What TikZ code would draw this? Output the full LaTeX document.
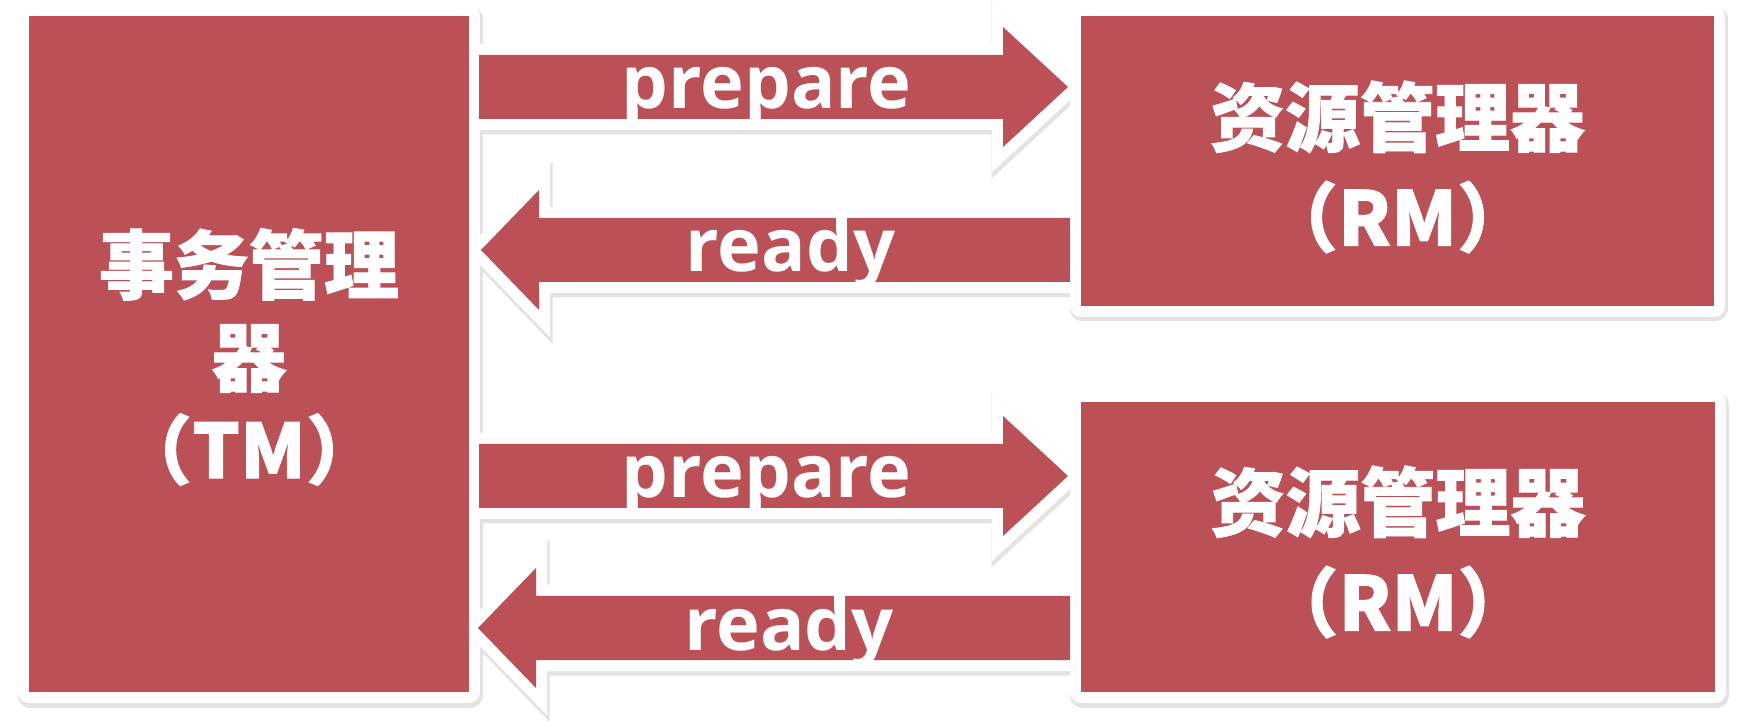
\documentclass[tikz,border=0pt]{standalone}
\usepackage{fontspec}
\setmainfont{Open Sans}
\newfontfamily\cjk{Noto Sans CJK SC}[BoldFeatures={FakeBold=1.2}]
\usetikzlibrary{calc}
\definecolor{boxred}{RGB}{187,80,87}
\pgfdeclarelayer{shadowlayer}
\pgfdeclarelayer{edgelayer}
\pgfsetlayers{shadowlayer,edgelayer,main}
\newcommand\blockarr[3]{($(#1)+(0,32)$) -- ($(#2)+(#3,32)$) -- ($(#2)+(#3,60)$) -- (#2) -- ($(#2)+(#3,-60)$) -- ($(#2)+(#3,-32)$) -- ($(#1)+(0,-32)$) -- cycle}
\begin{document}
\begin{tikzpicture}[x=1pt,y=1pt,
  box/.style={fill=boxred, draw=none, inner sep=0pt, outer sep=0pt},
  boxtext/.style={text=white, align=center, inner sep=0pt, font={\cjk\bfseries\fontsize{75}{#1}\selectfont}},
  arrowlabel/.style={text=white, inner sep=0pt, anchor=base, font={\bfseries\fontsize{74}{74}\selectfont}},
  edgeline/.style={draw=white, line width=22pt},
  shadowline/.style={draw=black!11, fill=black!11, line width=25pt, transform canvas={shift={(1pt,-3pt)}}}
]
\useasboundingbox (0,0) rectangle (1739,720);
% boxes
\node[box, minimum width=440pt, minimum height=676pt] (tm) at (249,366) {};
\node[box, minimum width=633pt, minimum height=290pt] (rm1) at (1397.5,559) {};
\node[box, minimum width=634pt, minimum height=290pt] (rm2) at (1398,173) {};
\node[boxtext=92.5] (tmtext) at ($(tm.center)+(0,-3)$) {事务管理\\器\\（TM）};
\node[boxtext=100] (rm1text) at ($(rm1.center)+(0,-6)$) {资源管理器\\（RM）};
\node[boxtext=100] (rm2text) at ($(rm2.center)+(0,-5)$) {资源管理器\\（RM）};
% arrow end points
\coordinate (p1s) at ($(tm.east |- 0,633)+(10,0)$);
\coordinate (p1t) at ($(rm1.west |- 0,633)+(-13,0)$);
\coordinate (r1s) at ($(rm1.west |- 0,470)+(-11,0)$);
\coordinate (r1t) at ($(tm.east |- 0,470)+(12,0)$);
\coordinate (p2s) at ($(tm.east |- 0,244)+(10,0)$);
\coordinate (p2t) at ($(rm2.west |- 0,244)+(-13,0)$);
\coordinate (r2s) at ($(rm2.west |- 0,92)+(-11,0)$);
\coordinate (r2t) at ($(tm.east |- 0,92)+(9,0)$);
% shadows
\begin{pgfonlayer}{shadowlayer}
  \fill[white] (0,0) rectangle (1739,720);
  \filldraw[shadowline, line join=round] (tm.south west) rectangle (tm.north east);
  \filldraw[shadowline, line join=round] (rm1.south west) rectangle (rm1.north east);
  \filldraw[shadowline, line join=round] (rm2.south west) rectangle (rm2.north east);
  \filldraw[shadowline] \blockarr{p1s}{p1t}{-65};
  \filldraw[shadowline] \blockarr{r1s}{r1t}{58};
  \filldraw[shadowline] \blockarr{p2s}{p2t}{-65};
  \filldraw[shadowline] \blockarr{r2s}{r2t}{58};
\end{pgfonlayer}
% white edges
\begin{pgfonlayer}{edgelayer}
  \draw[edgeline, line join=round] (tm.south west) rectangle (tm.north east);
  \draw[edgeline, line join=round] (rm1.south west) rectangle (rm1.north east);
  \draw[edgeline, line join=round] (rm2.south west) rectangle (rm2.north east);
  \draw[edgeline] \blockarr{p1s}{p1t}{-65};
  \draw[edgeline] \blockarr{r1s}{r1t}{58};
  \draw[edgeline] \blockarr{p2s}{p2t}{-65};
  \draw[edgeline] \blockarr{r2s}{r2t}{58};
\end{pgfonlayer}
% arrows
\fill[boxred] \blockarr{p1s}{p1t}{-65};
\fill[boxred] \blockarr{r1s}{r1t}{58};
\fill[boxred] \blockarr{p2s}{p2t}{-65};
\fill[boxred] \blockarr{r2s}{r2t}{58};
\node[arrowlabel] (l1) at ($(p1s)!0.5!(p1t)+(-7,-22)$) {prepare};
\node[arrowlabel] (l2) at ($(r1s)!0.5!(r1t)+(15,-22)$) {ready};
\node[arrowlabel] (l3) at ($(p2s)!0.5!(p2t)+(-7,-22)$) {prepare};
\node[arrowlabel] (l4) at ($(r2s)!0.5!(r2t)+(15,-22)$) {ready};
\end{tikzpicture}
\end{document}
